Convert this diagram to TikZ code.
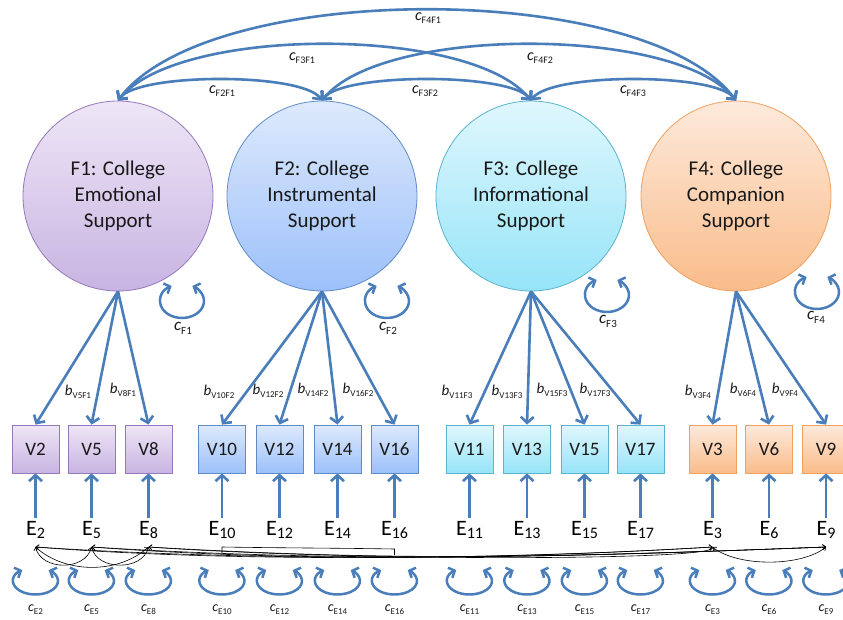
\documentclass[tikz,border=0pt]{standalone}
\usepackage{fontspec}
\setmainfont{Carlito}
\usetikzlibrary{arrows.meta}

\definecolor{linkblue}{RGB}{74,126,187}
% factor / indicator colour groups: light top, darker bottom, border
\definecolor{aTop}{RGB}{238,230,246}\definecolor{aBot}{RGB}{200,180,226}\definecolor{aLine}{RGB}{150,120,188}
\definecolor{bTop}{RGB}{222,234,252}\definecolor{bBot}{RGB}{156,192,250}\definecolor{bLine}{RGB}{95,140,200}
\definecolor{cTop}{RGB}{224,247,253}\definecolor{cBot}{RGB}{150,228,248}\definecolor{cLine}{RGB}{90,180,205}
\definecolor{dTop}{RGB}{253,234,220}\definecolor{dBot}{RGB}{250,188,138}\definecolor{dLine}{RGB}{240,160,95}

% parameter name: italic letter with a lowered upright subscript
\newcommand{\pname}[4]{{\fontsize{#1}{#1}\selectfont\itshape #3}{\fontsize{#2}{#2}\selectfont\raisebox{-0.35em}{#4}}}
% error term label
\newcommand{\Elab}[1]{{\fontsize{22}{22}\selectfont E}{\fontsize{16}{16}\selectfont\raisebox{-0.22em}{#1}}}

\tikzset{
  factor/.style={circle, minimum size=190pt, inner sep=0pt, line width=0.8pt,
    align=center, font=\fontsize{21}{26}\selectfont, text=black!90},
  obsbox/.style={rectangle, minimum width=47pt, minimum height=48pt, inner sep=0pt,
    line width=0.8pt, font=\fontsize{19}{19}\selectfont, text=black!90},
  grpA/.style={top color=aTop, bottom color=aBot, draw=aLine},
  grpB/.style={top color=bTop, bottom color=bBot, draw=bLine},
  grpC/.style={top color=cTop, bottom color=cBot, draw=cLine},
  grpD/.style={top color=dTop, bottom color=dBot, draw=dLine},
  load/.style={draw=linkblue, line width=2.6pt, ->},
  covarc/.style={draw=linkblue, line width=2.6pt, <->},
  varloop/.style={draw=linkblue, line width=2.5pt,
    {Straight Barb[length=5pt,width=11pt]}-{Straight Barb[length=5pt,width=11pt]}},
  errcov/.style={draw=black, line width=0.6pt,
    {Straight Barb[length=3pt,width=5pt]}-{Straight Barb[length=3pt,width=5pt]}},
  bracketline/.style={draw=black, line width=0.6pt},
  evar/.style={anchor=base, inner sep=3pt},
  lab/.style={inner sep=0pt, text=black!90},
}

\begin{document}
\begin{tikzpicture}[x=1pt, y=-1pt, >={Straight Barb[length=6pt,width=13pt]}]
\path[use as bounding box, fill=white] (0,0) rectangle (843,620);

% latent factors
\node[factor, grpA] (F1) at (118,196) {F1: College\\Emotional\\Support};
\node[factor, grpB] (F2) at (322,196) {F2: College\\Instrumental\\Support};
\node[factor, grpC] (F3) at (531,196) {F3: College\\Informational\\Support};
\node[factor, grpD] (F4) at (736,196) {F4: College\\Companion\\Support};

% factor covariances
\draw[covarc] (F1.north) .. controls +(20,-28) and +(-20,-28) .. (F2.north);
\draw[covarc] (F2.north) .. controls +(20,-28) and +(-20,-28) .. (F3.north);
\draw[covarc] (F3.north) .. controls +(20,-28) and +(-20,-28) .. (F4.north);
\draw[covarc] (F1.north) .. controls +(60,-75) and +(-60,-75) .. (F3.north);
\draw[covarc] (F2.north) .. controls +(60,-75) and +(-60,-75) .. (F4.north);
\draw[covarc] (F1.north) .. controls +(90,-121) and +(-90,-121) .. (F4.north);
\node[lab] at (428,18) {\pname{16}{10}{c}{F4F1}};
\node[lab] at (302,58) {\pname{16}{10}{c}{F3F1}};
\node[lab] at (540,58) {\pname{16}{10}{c}{F4F2}};
\node[lab] at (222,91) {\pname{16}{10}{c}{F2F1}};
\node[lab] at (425,91) {\pname{16}{10}{c}{F3F2}};
\node[lab] at (633,91) {\pname{16}{10}{c}{F4F3}};

% factor variances
\draw[varloop] ([shift={(64,105)}]F1.center) ++(118:22pt and 17pt)
  arc[start angle=118, end angle=422, x radius=22pt, y radius=17pt];
\draw[varloop] ([shift={(65,105)}]F2.center) ++(118:22pt and 17pt)
  arc[start angle=118, end angle=422, x radius=22pt, y radius=17pt];
\draw[varloop] ([shift={(76,99)}]F3.center) ++(118:22pt and 17pt)
  arc[start angle=118, end angle=422, x radius=22pt, y radius=17pt];
\draw[varloop] ([shift={(81,96)}]F4.center) ++(118:22pt and 17pt)
  arc[start angle=118, end angle=422, x radius=22pt, y radius=17pt];
\node[lab] at (183,328) {\pname{17}{11}{c}{F1}};
\node[lab] at (388,328) {\pname{17}{11}{c}{F2}};
\node[lab] at (608,321) {\pname{17}{11}{c}{F3}};
\node[lab] at (816,317) {\pname{17}{11}{c}{F4}};

% observed indicators
\foreach \v/\x/\g in {2/35.5/grpA, 5/91.5/grpA, 8/148.5/grpA,
                      10/222/grpB, 12/279.5/grpB, 14/337.5/grpB, 16/394.5/grpB,
                      11/469.5/grpC, 13/527/grpC, 15/584.5/grpC, 17/640.5/grpC,
                      3/712.5/grpD, 6/769/grpD, 9/826/grpD}
  \node[obsbox, \g] (V\v) at (\x,449) {V\v};

% loadings
\foreach \v in {2,5,8}      \draw[load] (F1.south) -- (V\v.north);
\foreach \v in {10,12,14,16} \draw[load] (F2.south) -- (V\v.north);
\foreach \v in {11,13,15,17} \draw[load] (F3.south) -- (V\v.north);
\foreach \v in {3,6,9}      \draw[load] (F4.south) -- (V\v.north);

\node[lab] at (78,392)  {\pname{15}{9}{b}{V5F1}};
\node[lab] at (123,390) {\pname{15}{9}{b}{V8F1}};
\node[lab] at (219,392) {\pname{15}{9}{b}{V10F2}};
\node[lab] at (268,391) {\pname{15}{9}{b}{V12F2}};
\node[lab] at (313,390) {\pname{15}{9}{b}{V14F2}};
\node[lab] at (358,390) {\pname{15}{9}{b}{V16F2}};
\node[lab] at (457,392) {\pname{15}{9}{b}{V11F3}};
\node[lab] at (507,392) {\pname{15}{9}{b}{V13F3}};
\node[lab] at (552,390) {\pname{15}{9}{b}{V15F3}};
\node[lab] at (595,390) {\pname{15}{9}{b}{V17F3}};
\node[lab] at (698,392) {\pname{15}{9}{b}{V3F4}};
\node[lab] at (743,390) {\pname{15}{9}{b}{V6F4}};
\node[lab] at (785,390) {\pname{15}{9}{b}{V9F4}};

% error terms, their paths and variances
\foreach \v/\x in {2/35.5, 5/91.5, 8/148.5, 10/222, 12/279.5, 14/337.5, 16/394.5,
                   11/469.5, 13/527, 15/584.5, 17/640.5, 3/712.5, 6/769, 9/826} {
  \node[evar] (E\v) at (\x,535) {\Elab{\v}};
  \draw[load] (E\v.north) -- (V\v.south);
  \draw[varloop] ([yshift=-46pt]E\v.base) ++(126:22.5pt and 13.5pt)
    arc[start angle=126, end angle=414, x radius=22.5pt, y radius=13.5pt];
  \node[lab] at (\x,610) {\pname{14}{9}{c}{E\v}};
  \coordinate (k\v) at ([yshift=-12pt]E\v.base);
}

% correlated errors
\draw[errcov] (k2) .. controls +(6,24) and +(-6,24) .. (k5);
\draw[errcov] (k5) .. controls +(6,24) and +(-6,24) .. (k8);
\draw[errcov] (k2) .. controls +(30,27) and +(-30,27) .. (k8);
\draw[errcov] (k2) .. controls +(200,16) and +(-200,12) .. (k3);
\draw[errcov] (k5) .. controls +(200,15) and +(-200,12) .. (k3);
\draw[errcov] (k8) .. controls +(200,14) and +(0,14) .. (k3);
\draw[errcov] (k2) .. controls +(260,17) and +(-260,10) .. (k9);
\draw[errcov] (k5) .. controls +(260,16) and +(-260,10) .. (k9);
\draw[errcov] (k8) .. controls +(260,15) and +(-260,10) .. (k9);
\draw[errcov] (k3) .. controls +(25,20) and +(-25,20) .. (k9);
\draw[bracketline] ([yshift=-6pt]k10) -- (k10) .. controls +(60,1) and +(-60,-1) .. ([yshift=-2pt]k16) -- ([yshift=-8pt]k16);
\end{tikzpicture}
\end{document}
